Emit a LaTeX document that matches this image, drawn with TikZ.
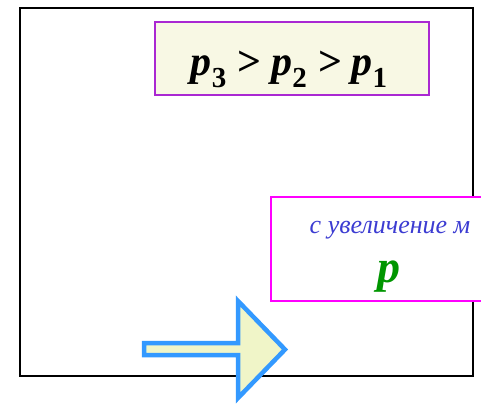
\documentclass[tikz,border=0pt]{standalone}
\usepackage{fontspec}
\setmainfont{Liberation Serif}
\usetikzlibrary{positioning}
\definecolor{boxViolet}{RGB}{170, 40, 210}
\definecolor{boxCream}{RGB}{248, 248, 228}
\definecolor{boxMagenta}{RGB}{255, 0, 255}
\definecolor{labelBlue}{RGB}{60, 60, 210}
\definecolor{pGreen}{RGB}{0, 150, 0}
\definecolor{arrowBlue}{RGB}{51, 153, 255}
\definecolor{arrowCream}{RGB}{240, 245, 200}
\newcommand{\psub}[1]{\raisebox{-0.3em}{\fontsize{29}{30}\selectfont\upshape #1}}

\begin{document}
\begin{tikzpicture}[x=1pt, y=-1pt,
    orderbox/.style={draw=boxViolet, fill=boxCream, line width=1.5pt, inner sep=0pt,
        minimum width=274pt, minimum height=73pt},
    trendbox/.style={draw=boxMagenta, fill=white, line width=1.5pt, inner sep=0pt,
        minimum width=242pt, minimum height=104pt},
    basetext/.style={anchor=base, inner sep=0pt},
    fatarrow/.style={draw=arrowBlue, fill=arrowCream, line width=4.5pt, line join=miter}]
    \useasboundingbox (0,0) rectangle (481,404);
    % Outer frame
    \draw[line width=2pt] (20,8) rectangle (473,376);
    % Order of pressures
    \node[orderbox] (order) at (292,58.5) {};
    \node[basetext, font=\fontsize{42}{46}\selectfont\bfseries\itshape] (orderlabel) at (289,75)
        {p\psub{3} > p\psub{2} > p\psub{1}};
    % Trend box
    \node[trendbox] (trend) at (392,249) {};
    \node[basetext, text=labelBlue, font=\fontsize{26}{28}\selectfont\itshape] (trendlabel) at (390,233)
        {с увеличение м};
    \node[basetext, text=pGreen, font=\fontsize{46}{46}\selectfont\bfseries\itshape] (trendp) at (389,282)
        {p};
    % Block arrow
    \draw[fatarrow] (144,343) -- (238,343) -- (238,301) -- (285,349.5)
        -- (238,398) -- (238,355) -- (144,355) -- cycle;
\end{tikzpicture}
\end{document}
